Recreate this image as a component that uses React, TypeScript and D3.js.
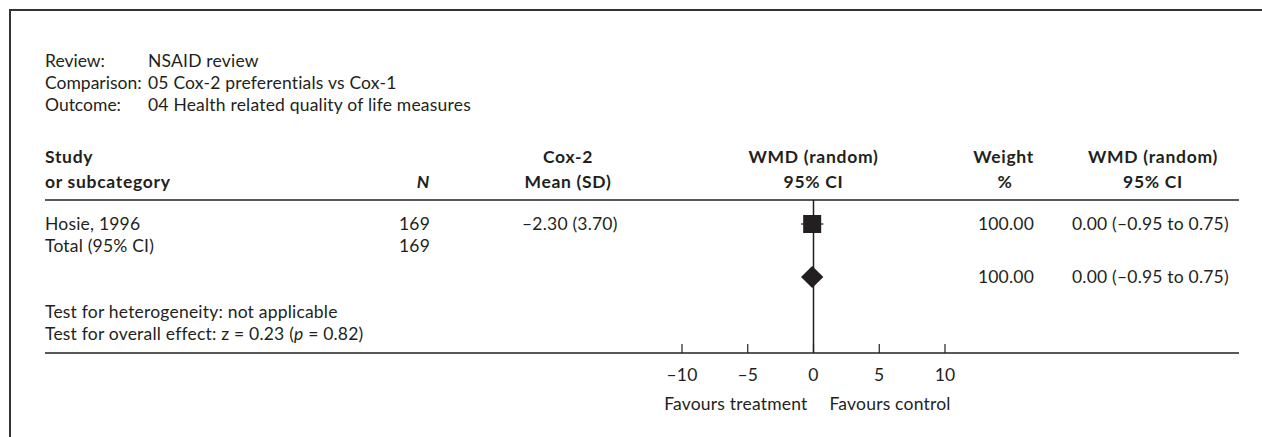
import React from "react";
import * as d3 from "d3";

const metaLabels = ["Review:", "Comparison:", "Outcome:"];
const metaValues = ["NSAID review", "05 Cox-2 preferentials vs Cox-1", "04 Health related quality of life measures"];

const studies = ["Hosie, 1996"];
const studyN = [169];
const studyMean = [-2.3];
const studySD = [3.7];
const studyEffect = [-0.1];
const studyLow = [-0.95];
const studyHigh = [0.75];
const studyWeight = [100.0];
const studyCI = ["0.00 (–0.95 to 0.75)"];

const totalLabel = "Total (95% CI)";
const totalN = 169;
const totalEffect = -0.1;
const totalLow = -0.95;
const totalHigh = 0.75;
const totalWeight = 100.0;
const totalCI = "0.00 (–0.95 to 0.75)";

const testLines = ["Test for heterogeneity: not applicable"];
const axisTicks = [-10, -5, 0, 5, 10];
const favours = ["Favours treatment", "Favours control"];

const W = 1262;
const H = 437;
const INK = "#231f20";
const FONT = "Lato, 'Open Sans', sans-serif";

const fmtMinus = (v: number) => (v < 0 ? "–" + Math.abs(v) : String(v));
const fmt2 = (v: number) => (v < 0 ? "–" : "") + Math.abs(v).toFixed(2);

export default function App() {
  const x = d3.scaleLinear().domain([-10, 10]).range([682, 945]);
  const x0 = x(0);
  const left = 45;
  const headerLineY = 200;
  const axisY = 353;
  const rowY = [224];
  const totalY = 246;
  const diamondY = 277;
  const fs = 17.5;
  const ls = 0.2;
  const colN = 430;
  const colMean = 568;
  const colWeight = 1034;
  const colCI = 1072;
  const colWMD2 = 1153;

  const diamond = d3.line<[number, number]>()([
    [x(totalLow), diamondY],
    [x(totalEffect), diamondY - 11],
    [x(totalHigh), diamondY],
    [x(totalEffect), diamondY + 11],
  ]) + "Z";

  return (
    <svg width={W} height={H} style={{ position: "absolute", left: 0, top: 0, display: "block" }} fontFamily={FONT} fill={INK}>
      <rect x={0} y={0} width={W} height={H} fill="#fff" />
      <path d={`M10,${H} V10 H${W}`} fill="none" stroke="#333" strokeWidth={2} />

      {metaLabels.map((l, i) => (
        <g key={l} fontSize={fs}>
          <text x={left} y={67 + i * 22}>{l}</text>
          <text x={148} y={67 + i * 22} letterSpacing={ls}>{metaValues[i]}</text>
        </g>
      ))}

      <g fontSize={fs} fontWeight="bold" letterSpacing={0.7}>
        <text x={left} y={163}>Study</text>
        <text x={left} y={188}>or subcategory</text>
        <text x={colN} y={188} textAnchor="end" fontStyle="italic">N</text>
        <text x={colMean} y={163} textAnchor="middle">Cox-2</text>
        <text x={colMean} y={188} textAnchor="middle">Mean (SD)</text>
        <text x={x0} y={163} textAnchor="middle">WMD (random)</text>
        <text x={x0} y={188} textAnchor="middle">95% CI</text>
        <text x={colWeight} y={163} textAnchor="end">Weight</text>
        <text x={1005} y={188} textAnchor="middle">%</text>
        <text x={colWMD2} y={163} textAnchor="middle">WMD (random)</text>
        <text x={colWMD2} y={188} textAnchor="middle">95% CI</text>
      </g>

      <line x1={left} x2={1239} y1={headerLineY} y2={headerLineY} stroke={INK} strokeWidth={1.5} />
      <line x1={x0} x2={x0} y1={headerLineY} y2={axisY} stroke={INK} strokeWidth={1.5} />

      {studies.map((s, i) => {
        const cy = rowY[i];
        return (
          <g key={s} fontSize={fs} letterSpacing={ls}>
            <text x={left} y={cy + 6}>{s}</text>
            <text x={colN} y={cy + 6} textAnchor="end">{studyN[i]}</text>
            <text x={522} y={cy + 6}>{`${fmt2(studyMean[i])} (${studySD[i].toFixed(2)})`}</text>
            <line x1={x(studyLow[i])} x2={x(studyHigh[i])} y1={cy} y2={cy} stroke={INK} strokeWidth={1.2} />
            <rect x={x(studyEffect[i]) - 9} y={cy - 9} width={18} height={18} fill={INK} />
            <text x={colWeight} y={cy + 6} textAnchor="end">{studyWeight[i].toFixed(2)}</text>
            <text x={colCI} y={cy + 6}>{studyCI[i]}</text>
          </g>
        );
      })}

      <g fontSize={fs} letterSpacing={ls}>
        <text x={left} y={totalY + 6}>{totalLabel}</text>
        <text x={colN} y={totalY + 6} textAnchor="end">{totalN}</text>
        <path d={diamond} fill={INK} />
        <text x={colWeight} y={diamondY + 6} textAnchor="end">{totalWeight.toFixed(2)}</text>
        <text x={colCI} y={diamondY + 6}>{totalCI}</text>
        <text x={left} y={318}>{testLines[0]}</text>
        <text x={left} y={340}>
          {"Test for overall effect: z = 0.23 ("}
          <tspan fontStyle="italic">p</tspan>
          {" = 0.82)"}
        </text>
      </g>

      <line x1={left} x2={1239} y1={axisY} y2={axisY} stroke={INK} strokeWidth={1.5} />
      <g fontSize={fs} letterSpacing={ls}>
        {axisTicks.map((t) => (
          <g key={t}>
            <line x1={x(t)} x2={x(t)} y1={axisY - 9} y2={axisY} stroke={INK} strokeWidth={1.2} />
            <text x={x(t)} y={axisY + 28} textAnchor="middle">{fmtMinus(t)}</text>
          </g>
        ))}
        <text x={x0 - 6} y={axisY + 57} textAnchor="end">{favours[0]}</text>
        <text x={x0 + 16} y={axisY + 57}>{favours[1]}</text>
      </g>
    </svg>
  );
}
